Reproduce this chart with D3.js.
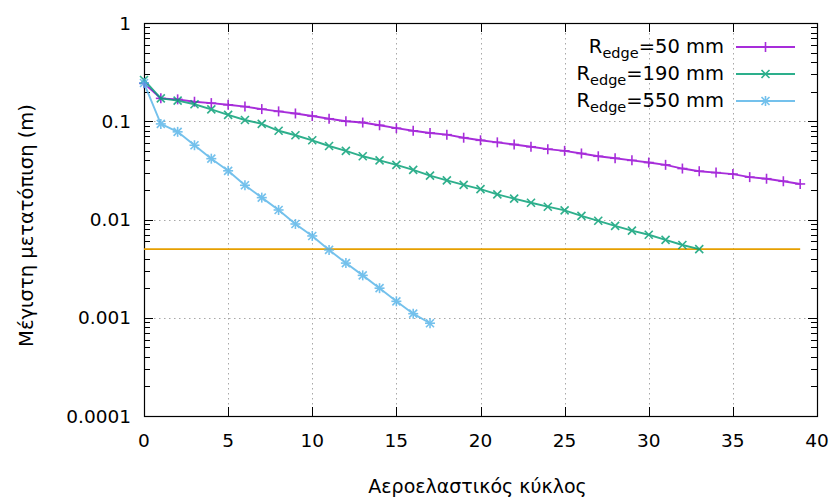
<!DOCTYPE html>
<html>
<head>
<meta charset="utf-8">
<script src="https://cdn.jsdelivr.net/npm/d3@7"></script>
<style>
  html, body { margin: 0; padding: 0; background: #fff; }
  svg { display: block; font-family: "DejaVu Sans", sans-serif; }
</style>
</head>
<body>
<svg id="chart" width="836" height="498"></svg>
<script>
// Peak displacement per aeroelastic cycle for three edge radii
const cycles50 = d3.range(0, 40);
const disp50 = [0.243, 0.171, 0.167, 0.158, 0.153, 0.147, 0.141, 0.133, 0.126, 0.120,
                0.113, 0.106, 0.100, 0.097, 0.091, 0.085, 0.080, 0.076, 0.073, 0.068,
                0.064, 0.061, 0.058, 0.055, 0.052, 0.050, 0.047, 0.044, 0.042, 0.040,
                0.038, 0.036, 0.033, 0.031, 0.030, 0.029, 0.027, 0.026, 0.0245, 0.023];

const cycles190 = d3.range(0, 34);
const disp190 = [0.263, 0.171, 0.162, 0.149, 0.132, 0.116, 0.103, 0.094, 0.080, 0.072,
                 0.064, 0.056, 0.050, 0.044, 0.040, 0.036, 0.032, 0.028, 0.025, 0.0225,
                 0.0204, 0.018, 0.0163, 0.0148, 0.0135, 0.0124, 0.0109, 0.0097, 0.0086, 0.0077,
                 0.0070, 0.0062, 0.0055, 0.0050];

const cycles550 = d3.range(0, 18);
const disp550 = [0.245, 0.094, 0.078, 0.057, 0.0416, 0.0313, 0.0223, 0.0167, 0.0125, 0.0090,
                 0.0068, 0.0049, 0.0036, 0.0027, 0.0020, 0.00147, 0.00110, 0.00088];

// Convergence threshold
const thresholdValue = 0.005;
const thresholdRange = [0, 39];

const seriesNames = ["50", "190", "550"];
const seriesColors = ["#9400d3", "#009e73", "#56b4e9"];
const seriesMarkers = ["plus", "cross", "star"];

const xTicks = [0, 5, 10, 15, 20, 25, 30, 35, 40];
const yTicks = [1, 0.1, 0.01, 0.001, 0.0001];
const yTickLabels = ["1", "0.1", "0.01", "0.001", "0.0001"];

const xTitle = "Αεροελαστικός κύκλος";
const yTitle = "Μέγιστη μετατόπιση (m)";

const svg = d3.select("#chart");
const pLeft = 144, pRight = 817, pTop = 23, pBottom = 416;

const x = d3.scaleLinear().domain([0, 40]).range([pLeft, pRight]);
const y = d3.scaleLog().domain([1e-4, 1]).range([pBottom, pTop]);

// grid
const grid = svg.append("g").attr("stroke", "#a8a8a8").attr("stroke-width", 1)
  .attr("stroke-dasharray", "1.5,3.5");
grid.selectAll("line.gx").data(xTicks.filter(d => d > 0 && d < 40)).join("line")
  .attr("x1", d => Math.round(x(d)) + 0.5).attr("x2", d => Math.round(x(d)) + 0.5)
  .attr("y1", pTop).attr("y2", pBottom);
grid.selectAll("line.gy").data(yTicks.filter(d => d < 1 && d > 1e-4)).join("line")
  .attr("x1", pLeft).attr("x2", pRight)
  .attr("y1", d => Math.round(y(d)) + 0.5).attr("y2", d => Math.round(y(d)) + 0.5);

// ticks (inward, mirrored on the opposite side)
const axisG = svg.append("g").attr("stroke", "#000").attr("stroke-width", 1);
const minorY = y.ticks().filter(d => !yTicks.some(t => Math.abs(t - d) / t < 1e-9));
const majLen = 9, minLen = 6;
yTicks.forEach(t => {
  const yy = Math.round(y(t)) + 0.5;
  axisG.append("line").attr("x1", pLeft).attr("x2", pLeft + majLen).attr("y1", yy).attr("y2", yy);
  axisG.append("line").attr("x1", pRight).attr("x2", pRight - majLen).attr("y1", yy).attr("y2", yy);
});
minorY.forEach(t => {
  const yy = Math.round(y(t)) + 0.5;
  axisG.append("line").attr("x1", pLeft).attr("x2", pLeft + minLen).attr("y1", yy).attr("y2", yy);
  axisG.append("line").attr("x1", pRight).attr("x2", pRight - minLen).attr("y1", yy).attr("y2", yy);
});
xTicks.forEach(t => {
  const xx = Math.round(x(t)) + 0.5;
  axisG.append("line").attr("x1", xx).attr("x2", xx).attr("y1", pBottom).attr("y2", pBottom - majLen);
  axisG.append("line").attr("x1", xx).attr("x2", xx).attr("y1", pTop).attr("y2", pTop + majLen);
});

// frame
svg.append("rect").attr("x", pLeft + 0.5).attr("y", pTop + 0.5)
  .attr("width", pRight - pLeft).attr("height", pBottom - pTop)
  .attr("fill", "none").attr("stroke", "#000").attr("stroke-width", 1.2);

// tick labels
svg.append("g").selectAll("text").data(yTicks).join("text")
  .attr("x", 131).attr("y", d => y(d)).attr("dy", "0.36em")
  .attr("text-anchor", "end").attr("font-size", 18.5).attr("fill", "#000")
  .text((d, i) => yTickLabels[i]);
svg.append("g").selectAll("text").data(xTicks).join("text")
  .attr("x", d => x(d)).attr("y", 447)
  .attr("text-anchor", "middle").attr("font-size", 18.5).attr("fill", "#000")
  .text(d => d);

// axis titles
svg.append("text").attr("x", (pLeft + pRight) / 2 - 3).attr("y", 493)
  .attr("text-anchor", "middle").attr("font-size", 19).text(xTitle);
svg.append("text").attr("transform", `translate(33,${(pTop + pBottom) / 2 + 6}) rotate(-90)`)
  .attr("text-anchor", "middle").attr("font-size", 19.5).text(yTitle);

// threshold line
svg.append("line")
  .attr("x1", x(thresholdRange[0])).attr("x2", x(thresholdRange[1]))
  .attr("y1", y(thresholdValue)).attr("y2", y(thresholdValue))
  .attr("stroke", "#e69f00").attr("stroke-width", 1.6);

// point marker glyphs: plus, cross, and star (plus + cross)
function marker(g, kind, cx, cy, color) {
  const r = 5;
  const segs = [];
  if (kind === "plus" || kind === "star") { segs.push([-r, 0, r, 0], [0, -r, 0, r]); }
  if (kind === "cross" || kind === "star") { segs.push([-r * 0.8, -r * 0.8, r * 0.8, r * 0.8], [-r * 0.8, r * 0.8, r * 0.8, -r * 0.8]); }
  segs.forEach(s => g.append("line")
    .attr("x1", cx + s[0]).attr("y1", cy + s[1]).attr("x2", cx + s[2]).attr("y2", cy + s[3])
    .attr("stroke", color).attr("stroke-width", 1.6));
}

const series = [
  { xs: cycles50, ys: disp50 },
  { xs: cycles190, ys: disp190 },
  { xs: cycles550, ys: disp550 }
];

const line = d3.line().x(d => x(d[0])).y(d => y(d[1]));
series.forEach((s, i) => {
  const pts = s.xs.map((c, k) => [c, s.ys[k]]);
  const g = svg.append("g").attr("opacity", 0.82);
  g.append("path").attr("d", line(pts)).attr("fill", "none")
    .attr("stroke", seriesColors[i]).attr("stroke-width", 1.9);
  pts.forEach(p => marker(g, seriesMarkers[i], x(p[0]), y(p[1]), seriesColors[i]));
});

// legend
const legendRows = [47, 74, 101];
const leg = svg.append("g");
seriesNames.forEach((name, i) => {
  const yy = legendRows[i];
  const t = leg.append("text").attr("x", 724).attr("y", yy + 6)
    .attr("text-anchor", "end").attr("font-size", 19.5);
  t.append("tspan").text("R");
  t.append("tspan").attr("font-size", 14.5).attr("dy", 5).text("edge");
  t.append("tspan").attr("dy", -5).text("=" + name + " mm");
  const g = leg.append("g").attr("opacity", 0.82);
  g.append("line").attr("x1", 736).attr("x2", 795).attr("y1", yy).attr("y2", yy)
    .attr("stroke", seriesColors[i]).attr("stroke-width", 1.9);
  marker(g, seriesMarkers[i], 765.5, yy, seriesColors[i]);
});
</script>
</body>
</html>
